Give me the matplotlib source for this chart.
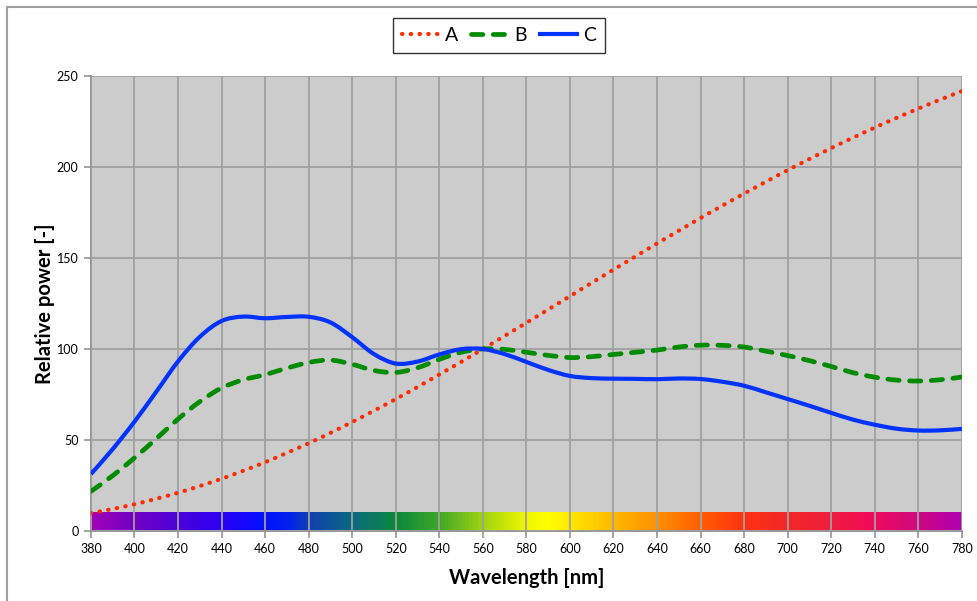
import numpy as np
import matplotlib
matplotlib.use("Agg")
import matplotlib.pyplot as plt
from matplotlib.colors import LinearSegmentedColormap
from matplotlib.lines import Line2D
from matplotlib.path import Path
from matplotlib.patches import PathPatch

# wavelengths [nm], 10 nm steps
wl = list(range(380, 790, 10))

# relative spectral power, 560 nm = 100
illum_a = [9.8, 12.1, 14.7, 17.7, 21.0, 24.7, 28.7, 33.1, 37.8, 42.9,
           48.2, 53.9, 59.9, 66.1, 72.5, 79.1, 86.0, 92.9, 100.0, 107.2,
           114.4, 121.7, 129.0, 136.4, 143.6, 150.8, 158.0, 165.0, 172.0, 178.8,
           185.4, 191.9, 198.3, 204.4, 210.4, 216.1, 221.7, 227.0, 232.1, 237.0,
           241.7]
illum_b = [21.8, 30.4, 40.2, 50.7, 61.5, 71.1, 78.6, 83.1, 85.9, 89.5,
           92.6, 93.9, 91.6, 88.2, 87.1, 89.7, 94.3, 98.2, 100.0, 99.8,
           98.2, 96.5, 95.3, 95.8, 97.0, 98.2, 99.4, 101.1, 102.1, 102.0,
           101.1, 98.8, 96.4, 93.6, 90.4, 87.0, 84.5, 82.9, 82.4, 83.1,
           84.6]
illum_c = [31.3, 45.0, 60.1, 76.5, 93.2, 106.7, 115.4, 117.8, 116.9, 117.6,
           117.7, 114.6, 106.5, 97.2, 92.0, 93.1, 97.0, 99.9, 100.0, 97.2,
           92.9, 88.5, 85.2, 84.0, 83.7, 83.6, 83.4, 83.8, 83.5, 82.0,
           79.8, 76.2, 72.5, 68.8, 64.9, 61.2, 58.4, 56.2, 55.2, 55.3,
           56.1]

# spectrum strip colours
spec_nm = [380, 400, 420, 440, 460, 470, 480, 500, 520, 540, 560, 580, 590,
           600, 620, 640, 660, 680, 700, 720, 740, 760, 780]
spec_col = ["#a000b8", "#7000c4", "#4c00dc", "#2800f4", "#0010ff", "#0020f0",
            "#1040b0", "#0a6a80", "#0a8a3a", "#40a828", "#a0d410", "#f0f800",
            "#ffff00", "#ffe800", "#ffb800", "#ff9000", "#ff6000", "#ff3010",
            "#f02828", "#f01e3c", "#f00a5a", "#d00880", "#b000b0"]

STYLE_A = dict(color="#ff2a00", lw=3.0, linestyle=(0, (0.1, 2.0)))
STYLE_B = dict(color="#008c00", lw=3.4, linestyle=(0, (2.4, 2.2)))
STYLE_C = dict(color="#0033ff", lw=3.0, linestyle="-")


def smooth_path(x, y):
    # Excel-like smoothed line: Catmull-Rom drawn as cubic Bezier segments
    p = np.column_stack([x, y]).astype(float)
    q = np.vstack([p[0], p, p[-1]])
    verts = [p[0]]
    codes = [Path.MOVETO]
    for i in range(len(p) - 1):
        p0, p1, p2, p3 = q[i], q[i + 1], q[i + 2], q[i + 3]
        verts += [p1 + (p2 - p0) / 6, p2 - (p3 - p1) / 6, p2]
        codes += [Path.CURVE4] * 3
    return Path(verts, codes)


def add_curve(ax, x, y, st, z):
    patch = PathPatch(smooth_path(x, y), fill=False, edgecolor=st["color"],
                      lw=st["lw"], linestyle=st["linestyle"], zorder=z)
    patch.set_capstyle("round" if st["linestyle"] != "-" else "butt")
    ax.add_patch(patch)


plt.rcParams['font.family'] = ['Lato', 'DejaVu Sans']

fig = plt.figure(figsize=(9.78, 6.01), dpi=100)
ax = fig.add_axes([0.093, 0.1165, 0.8905, 0.757])
ax.set_facecolor("#cccccc")

pos = [(n - 380) / 400 for n in spec_nm]
cmap = LinearSegmentedColormap.from_list("spec", list(zip(pos, spec_col)))
strip = np.linspace(0, 1, 800).reshape(1, -1)
ax.imshow(strip, cmap=cmap, extent=[380, 780, 0, 10], aspect="auto",
          zorder=0.3, interpolation="bilinear")

add_curve(ax, wl, illum_a, STYLE_A, 3)
add_curve(ax, wl, illum_b, STYLE_B, 3)
add_curve(ax, wl, illum_c, STYLE_C, 4)

ax.set_xlim(380, 780)
ax.set_ylim(0, 250)
ax.set_xticks(range(380, 781, 20))
ax.set_yticks(range(0, 251, 50))
ax.grid(True, color="#a0a0a0", lw=1.3)
ax.set_axisbelow(False)
for gl in ax.get_xgridlines() + ax.get_ygridlines():
    gl.set_zorder(1)
for s in ["top", "right"]:
    ax.spines[s].set_visible(False)
for s in ["left", "bottom"]:
    ax.spines[s].set_color("#8c8c8c")
    ax.spines[s].set_linewidth(1.3)
ax.tick_params(direction="out", length=5, width=1.1, color="#8c8c8c",
               labelsize=9, pad=4)

ax.set_xlabel("Wavelength [nm]", fontsize=14.5, fontweight="bold", labelpad=9)
ax.set_ylabel("Relative power [-]", fontsize=14.5, fontweight="bold", labelpad=1)

handles = [Line2D([], [], dash_capstyle="round", **STYLE_A),
           Line2D([], [], dash_capstyle="round", **STYLE_B),
           Line2D([], [], **STYLE_C)]
leg = fig.legend(handles, ["A", "B", "C"], loc="center",
                 bbox_to_anchor=(0.51, 0.941), ncol=3, fontsize=14,
                 handlelength=1.9, handletextpad=0.3, columnspacing=0.7,
                 fancybox=False, edgecolor="black", borderpad=0.45,
                 frameon=True)
leg.get_frame().set_linewidth(1.0)

# outer chart border (left and top visible)
fig.add_artist(Line2D([7 / 978, 7 / 978], [0, 1 - 7 / 601],
                      color="#a0a0a0", lw=1.5, transform=fig.transFigure))
fig.add_artist(Line2D([7 / 978, 1], [1 - 7 / 601, 1 - 7 / 601],
                      color="#a0a0a0", lw=1.5, transform=fig.transFigure))

fig.savefig("out.png", dpi=100)
